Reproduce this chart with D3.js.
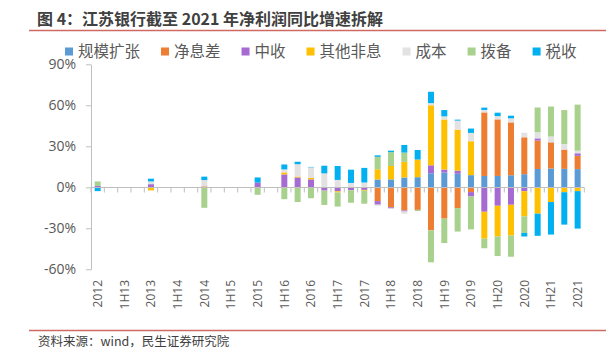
<!DOCTYPE html>
<html>
<head>
<meta charset="utf-8">
<script src="https://cdn.jsdelivr.net/npm/d3@7"></script>
<style>
  body { margin: 0; background: #fff; }
  svg { display: block; font-family: "Noto Sans CJK SC", "Noto Sans", sans-serif; }
</style>
</head>
<body>
<div id="chart"></div>
<script>
(function () {
    'use strict';

    // quarterly periods, only every other one gets a label
    const categories = [
        "2012",
        "1Q13", "1H13", "3Q13", "2013",
        "1Q14", "1H14", "3Q14", "2014",
        "1Q15", "1H15", "3Q15", "2015",
        "1Q16", "1H16", "3Q16", "2016",
        "1Q17", "1H17", "3Q17", "2017",
        "1Q18", "1H18", "3Q18", "2018",
        "1Q19", "1H19", "3Q19", "2019",
        "1Q20", "1H20", "3Q20", "2020",
        "1Q21", "1H21", "3Q21", "2021"
    ];

    const seriesNames = ["规模扩张", "净息差", "中收", "其他非息", "成本", "拨备", "税收"];
    const seriesColors = ["#5B9BD5", "#ED7D31", "#A66BD3", "#FFC000", "#E2E2E2", "#A9D18E", "#00B0F0"];

    const scaleGrowth = [0,
        0, 0, 0, 0,
        0, 0, 0, 0,
        0, 0, 0, 0,
        0, 0, 0, 0,
        0, 0, 0, 0,
        5.7, 5.8, 7.2, 7.4,
        10.3, 10.8, 9.9, 8.9,
        8.3, 8.3, 8.8, 9.6,
        13.4, 13.8, 13.5, 13.3];

    const nim = [0,
        0, 0, 0, 0,
        0, 0, 0, 0.7,
        0, 0, 0, 0,
        0, 0, 0, 0,
        0, 0, 0, 0,
        -10.1, -14.6, -17, -16.5,
        -31.5, -22.9, -15.2, -3.5,
        46.5, 41.4, 38.7, 27,
        20.8, 19.1, 14.1, 9.7];

    const feeIncome = [1.0,
        0, 0, 0, 2.3,
        0, 0, 0, 0,
        0, 0, 0, 3.4,
        0, 9.4, 7.2, 5.8,
        -2.4, -2.9, -2.1, -1.9,
        -2.6, -0.8, -0.7, 0,
        5.8, 2.2, 2.3, -3.2,
        -17.9, -13.5, -12.8, -2.9,
        1.6, 0, 0, 1.9];

    const otherNonInt = [0,
        0, 0, 0, -2.3,
        0, 0, 0, 0,
        0, 0, 0, 0,
        0, 1.5, 0.7, 1.0,
        0, -0.9, 0, -0.6,
        7.5, 9.8, 11.4, 12.9,
        43.9, 36.6, 30, 24.8,
        -19.7, -22.4, -22.5, -18.3,
        -19.3, -10.8, -3.6, -2.8];

    const cost = [0,
        0, 0, 0, 2.0,
        0, 0, 0, 4.6,
        0, 0, 0, 0,
        0, 2.2, 9.0, 7.8,
        10.2, 5.4, 3.2, 3.5,
        -0.8, -0.4, -1.7, 0,
        1.6, 2.3, 6.6, 6.1,
        1.8, 2.4, 3.0, 3.3,
        4.5, 4.3, 4.1, 1.9];

    const provision = [3.3,
        0, 0, 0, 0,
        0, 0, 0, -15,
        0, 0, 0, -5.5,
        0, -8.7, -10.8, -8.0,
        -10.5, -10.3, -9.2, -9.5,
        9.1, 10.1, 6.8, -0.8,
        -23.4, -17.9, -17.2, -24.1,
        -7, -14.4, -15.5, -12.2,
        18.1, 21.9, 24.8, 33.7];

    const tax = [-2.8,
        0, 0, 0, 2.0,
        0, 0, 0, 2.5,
        0, 0, 0, 3.8,
        0, 3.6, 1.8, 0.3,
        5.6, 10.2, 9.7, 10.7,
        1.1, 1.1, 5.6, 7.0,
        8.3, 4.6, 0.7, 3.2,
        1.7, 2.5, 1.9, -2.6,
        -16.2, -23.8, -23.7, -27.4];

    const yTicks = [-60, -30, 0, 30, 60, 90];

    const seriesValues = [scaleGrowth, nim, feeIncome, otherNonInt, cost, provision, tax];

    const rows = categories.map((c, i) => {
        const r = { cat: c };
        seriesNames.forEach((s, k) => { r[s] = seriesValues[k][i]; });
        return r;
    });

    const W = 611, H = 353;
    const axisColor = "#BFBFBF";
    const textColor = "#595959";
    const redLine = "#CD6A63";

    const svg = d3.select("#chart").append("svg")
        .attr("width", W)
        .attr("height", H);

    // title + rules
    svg.append("text")
        .attr("x", 37)
        .attr("y", 25)
        .attr("font-size", 16)
        .attr("font-weight", "bold")
        .attr("fill", "#404040")
        .text("图 4：江苏银行截至 2021 年净利润同比增速拆解");

    svg.append("line")
        .attr("x1", 29).attr("x2", 606)
        .attr("y1", 30.5).attr("y2", 30.5)
        .attr("stroke", redLine).attr("stroke-width", 1.3);

    svg.append("line")
        .attr("x1", 29).attr("x2", 606)
        .attr("y1", 330.5).attr("y2", 330.5)
        .attr("stroke", redLine).attr("stroke-width", 1.3);

    svg.append("text")
        .attr("x", 38)
        .attr("y", 346)
        .attr("font-size", 12.5)
        .attr("fill", "#404040")
        .text("资料来源：wind，民生证券研究院");

    // legend
    const legend = svg.append("g").attr("transform", "translate(65,51.5)");
    let lx = 0;
    seriesNames.forEach((name, k) => {
        const g = legend.append("g").attr("transform", `translate(${lx},0)`);
        g.append("rect")
            .attr("x", 0).attr("y", -4)
            .attr("width", 8).attr("height", 8)
            .attr("fill", seriesColors[k]);
        const t = g.append("text")
            .attr("x", 13)
            .attr("dy", "0.35em")
            .attr("font-size", 15.5)
            .attr("fill", textColor)
            .text(name);
        lx += 13 + t.node().getComputedTextLength() + 21;
    });

    // scales
    const x = d3.scaleBand()
        .domain(categories)
        .range([91, 584.3])
        .padding(0);

    const y = d3.scaleLinear()
        .domain([-60, 90])
        .range([269.3, 64.3]);

    const barW = 6;

    const stack = d3.stack()
        .keys(seriesNames)
        .offset(d3.stackOffsetDiverging);

    const stacked = stack(rows);

    svg.append("g")
        .selectAll("g")
        .data(stacked)
        .enter()
        .append("g")
        .attr("fill", (d, i) => seriesColors[i])
        .selectAll("rect")
        .data(d => d)
        .enter()
        .append("rect")
        .attr("x", d => x(d.data.cat) + (x.bandwidth() - barW) / 2)
        .attr("y", d => y(Math.max(d[0], d[1])))
        .attr("width", barW)
        .attr("height", d => Math.abs(y(d[0]) - y(d[1])));

    // y axis
    const yAxis = svg.append("g")
        .attr("transform", "translate(91,0)")
        .call(d3.axisLeft(y)
            .tickValues(yTicks)
            .tickFormat(d => d + "%")
            .tickSize(5)
            .tickSizeOuter(0)
            .tickPadding(10));

    yAxis.select(".domain").attr("stroke", axisColor);
    yAxis.selectAll(".tick line").attr("stroke", axisColor);
    yAxis.selectAll(".tick text")
        .attr("fill", textColor)
        .attr("font-size", 14)
        .attr("font-family", "'Open Sans', sans-serif");

    // zero line with ticks between categories
    const y0 = Math.round(y(0)) + 0.5;
    svg.append("line")
        .attr("x1", 91).attr("x2", 584.3)
        .attr("y1", y0).attr("y2", y0)
        .attr("stroke", axisColor).attr("stroke-width", 1.2);

    const step = x.step();
    svg.append("g")
        .selectAll("line")
        .data(d3.range(categories.length + 1))
        .enter()
        .append("line")
        .attr("x1", i => 91 + i * step)
        .attr("x2", i => 91 + i * step)
        .attr("y1", y0)
        .attr("y2", y0 + 5)
        .attr("stroke", axisColor);

    // category labels at the bottom, rotated
    svg.append("g")
        .selectAll("text")
        .data(categories.filter((d, i) => i % 2 === 0))
        .enter()
        .append("text")
        .attr("transform", d => `translate(${x(d) + x.bandwidth() / 2},280) rotate(-90)`)
        .attr("text-anchor", "end")
        .attr("dy", "0.35em")
        .attr("font-size", 12)
        .attr("font-family", "'Open Sans', sans-serif")
        .attr("fill", textColor)
        .text(d => d);

})();
</script>
</body>
</html>
